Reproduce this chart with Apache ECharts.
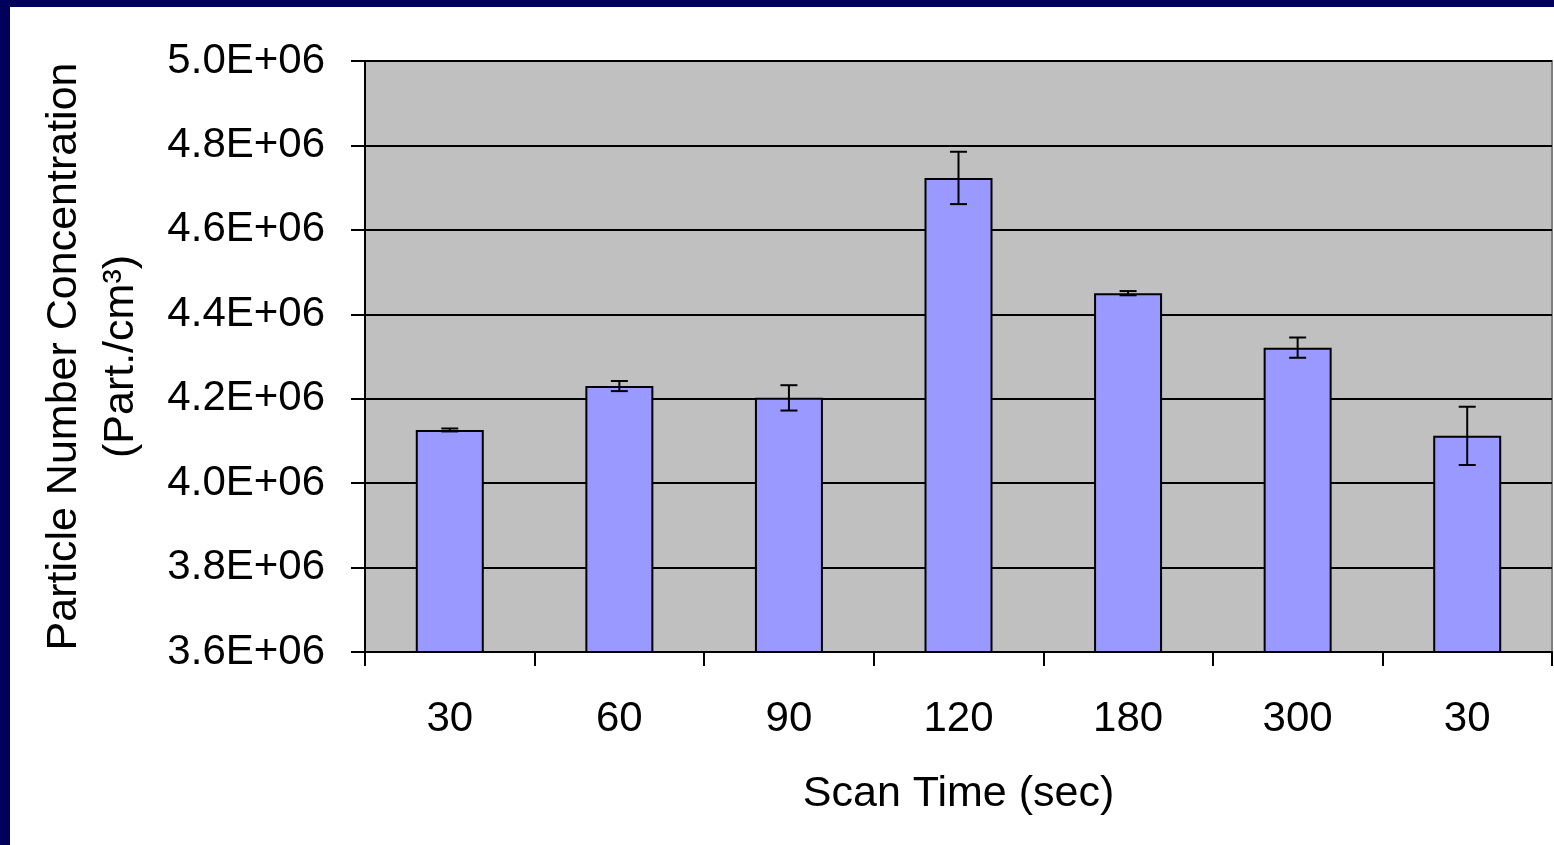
<!DOCTYPE html>
<html>
<head>
<meta charset="utf-8">
<title>Particle Number Concentration vs Scan Time</title>
<script src="https://cdn.jsdelivr.net/npm/echarts@6/dist/echarts.min.js"></script>
<style>
  html, body {
    margin: 0;
    padding: 0;
    width: 1554px;
    height: 845px;
    overflow: hidden;
    background: #00005c;
  }
  #chart {
    position: absolute;
    left: 10px;
    top: 7px;
    width: 1544px;
    height: 838px;
    background: #ffffff;
  }
</style>
</head>
<body>
<div id="chart"></div>
<script>
// Data
const scanTimes = ['30', '60', '90', '120', '180', '300', '30']
const concentration = [4126000, 4230000, 4202000, 4723000, 4450000, 4321000, 4112000]
const stdDev = [3500, 12000, 30000, 62000, 5000, 24000, 69000]

const yMin = 3600000
const yMax = 5000000
const yStep = 200000

const font = 'Liberation Sans, Arial, sans-serif'

// 5.0E+06 style labels
const sciLabel = (v) => {
  const parts = Number(v).toExponential(1).toUpperCase().split('E')
  const exp = parseInt(parts[1], 10)
  const sign = exp < 0 ? '-' : '+'
  return parts[0] + 'E' + sign + String(Math.abs(exp)).padStart(2, '0')
}

const errorData = concentration.map((v, i) => [i, v - stdDev[i], v + stdDev[i]])

const chart = echarts.init(document.getElementById('chart'), null, { renderer: 'canvas' })

const option = {
  animation: false,
  backgroundColor: '#ffffff',
  textStyle: { fontFamily: font, color: '#000' },
  grid: {
    left: 355,
    right: 2,
    top: 54,
    bottom: 193,
    show: true,
    backgroundColor: '#c0c0c0',
    borderColor: '#808080',
    borderWidth: 2
  },
  xAxis: {
    type: 'category',
    data: scanTimes,
    boundaryGap: true,
    name: 'Scan Time (sec)',
    nameLocation: 'middle',
    nameGap: 121,
    nameTextStyle: { fontSize: 43, lineHeight: 43, color: '#000', fontFamily: font },
    axisLine: { lineStyle: { color: '#000', width: 2 } },
    axisTick: { show: true, length: 14, lineStyle: { color: '#000', width: 2 } },
    axisLabel: { fontSize: 42, lineHeight: 42, margin: 46, color: '#000', fontFamily: font },
    splitLine: { show: false }
  },
  yAxis: {
    type: 'value',
    min: yMin,
    max: yMax,
    interval: yStep,
    name: 'Particle Number Concentration\n(Part./cm³)',
    nameLocation: 'middle',
    nameRotate: 90,
    nameGap: 215,
    nameTextStyle: { fontSize: 43, lineHeight: 57, color: '#000', fontFamily: font },
    axisLine: { show: true, lineStyle: { color: '#000', width: 2 } },
    axisTick: { show: true, length: 14, lineStyle: { color: '#000', width: 2 } },
    axisLabel: {
      fontSize: 42,
      margin: 40,
      color: '#000',
      fontFamily: font,
      formatter: sciLabel
    },
    splitLine: { show: true, lineStyle: { color: '#000', width: 2 } }
  },
  series: [
    {
      name: 'Concentration',
      type: 'bar',
      data: concentration,
      barWidth: 68,
      itemStyle: {
        color: '#9999ff',
        borderColor: '#000',
        borderWidth: 2
      },
      z: 2
    },
    {
      name: 'Std dev',
      type: 'custom',
      data: errorData,
      encode: { x: 0, y: [1, 2] },
      z: 3,
      renderItem: function (params, api) {
        const x = api.value(0)
        const low = api.coord([x, api.value(1)])
        const high = api.coord([x, api.value(2)])
        const half = 8.5
        const style = { stroke: '#000', lineWidth: 2 }
        return {
          type: 'group',
          children: [
            { type: 'line', shape: { x1: high[0], y1: high[1], x2: low[0], y2: low[1] }, style: style },
            { type: 'line', shape: { x1: high[0] - half, y1: high[1], x2: high[0] + half, y2: high[1] }, style: style },
            { type: 'line', shape: { x1: low[0] - half, y1: low[1], x2: low[0] + half, y2: low[1] }, style: style }
          ]
        }
      }
    }
  ]
}

chart.setOption(option)
</script>
</body>
</html>
